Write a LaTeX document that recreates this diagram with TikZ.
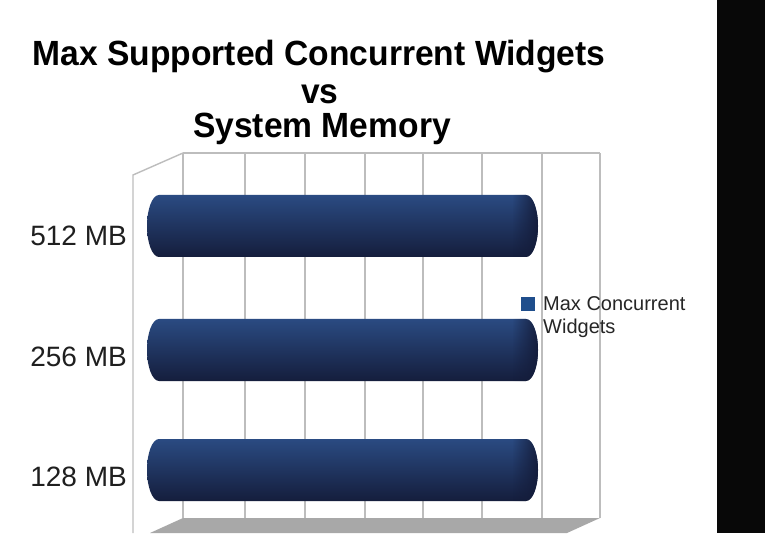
\documentclass[tikz,border=0pt]{standalone}
\usepackage{fontspec}
\setmainfont{Liberation Sans}
\usetikzlibrary{fadings}
\definecolor{gridc}{HTML}{BDBDBD}
\definecolor{floorc}{HTML}{A8A8A8}
\definecolor{bartop}{HTML}{2B4C84}
\definecolor{barmid}{HTML}{223C6E}
\definecolor{barbot}{HTML}{141C3A}
\definecolor{legc}{HTML}{1F4E8C}
\tikzfading[name=capfade, left color=transparent!100, right color=transparent!0]
\tikzset{
  gridline/.style={draw=gridc, line width=1.4pt},
  titletext/.style={font=\fontsize{35}{40}\selectfont\bfseries, anchor=base, inner sep=0pt, xscale=0.96},
  cattext/.style={font=\fontsize{28}{31}\selectfont, text=black!88, anchor=base east, inner sep=0pt},
  legtext/.style={font=\fontsize{20}{23}\selectfont, text=black!85, anchor=base west, inner sep=0pt},
}
\newcommand{\cylbar}[3]{% x1, x2, yc
  \begin{scope}
    \path[clip] ({#1+12},{#3+31}) -- ({#2-12},{#3+31})
      arc[start angle=90,end angle=-90,x radius=12,y radius=31]
      -- ({#1+12},{#3-31})
      arc[start angle=270,end angle=90,x radius=12,y radius=31] -- cycle;
    \shade[top color=bartop, middle color=barmid, bottom color=barbot]
      ({#1-2},{#3-33}) rectangle ({#2+2},{#3+33});
    \fill[barbot, path fading=capfade] ({#2-26},{#3-33}) rectangle ({#2+2},{#3+33});
  \end{scope}
}
\begin{document}
\begin{tikzpicture}[x=1pt,y=1pt]
\useasboundingbox (0,0) rectangle (765,533);
\fill[white] (0,0) rectangle (765,533);
% black band on the right
\fill[black!97] (717,0) rectangle (765,533);
% floor
\fill[floorc] (183,15) -- (600,15) -- (567,0) -- (150,0) -- cycle;
% back wall grid
\foreach \gx in {183,245,305,365,423,482,542,600}
  \draw[gridline] (\gx,15) -- (\gx,380);
\draw[gridline] (183,380) -- (600,380);
% left wall
\draw[gridline] (133,0) -- (133,358) -- (183,380);
% bars
\cylbar{147}{538}{307}
\cylbar{147}{538}{183}
\cylbar{147}{538}{63}
% category labels
\node[cattext] (c512) at (127,287) {512 MB};
\node[cattext] (c256) at (127,167) {256 MB};
\node[cattext] (c128) at (127,47) {128 MB};
% title
\node[titletext] (t1) at (319,467) {Max Supported Concurrent Widgets};
\node[titletext] (t2) at (320,429) {vs};
\node[titletext] (t3) at (322,395) {System Memory};
% legend
\fill[legc] (521,222) rectangle (535,236);
\node[legtext] (l1) at (543,222) {Max Concurrent};
\node[legtext] (l2) at (543,199) {Widgets};
\end{tikzpicture}
\end{document}
